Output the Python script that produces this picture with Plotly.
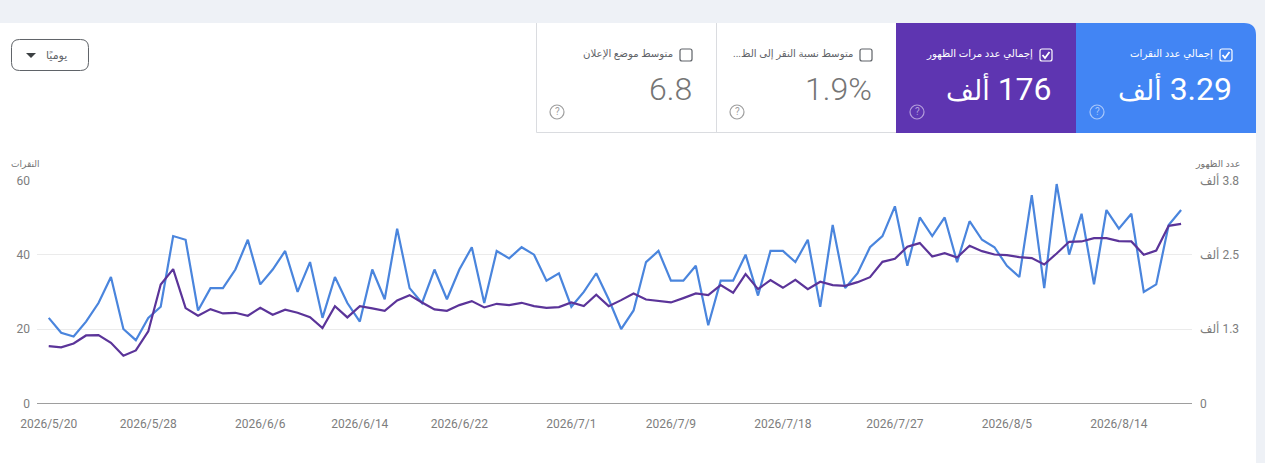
import datetime as dt
import plotly.graph_objects as go

W = 1265
H = 463

# daily clicks (left axis)
clicks = [23, 19, 18, 22, 27, 34, 20, 17, 23, 26, 45, 44, 25, 31, 31, 36, 44, 32, 36, 41, 30, 38, 23,
          34, 27, 22, 36, 28, 47, 31, 27, 36, 28, 36, 42, 27, 41, 39, 42, 40, 33, 35, 26, 30, 35, 28,
          20, 25, 38, 41, 33, 33, 37, 21, 33, 33, 40, 29, 41, 41, 38, 44, 26, 48, 31, 35, 42, 45, 53,
          37, 50, 45, 50, 38, 49, 44, 42, 37, 34, 56, 31, 59, 40, 51, 32, 52, 47, 51, 30, 32, 48, 52]

# daily impressions (right axis)
impressions = [963, 941, 1008, 1142, 1148, 1019, 801, 890, 1210, 1999, 2257, 1602, 1473, 1585, 1512,
               1523, 1473, 1607, 1490, 1574, 1523, 1450, 1266, 1635, 1445, 1635, 1596, 1557, 1730,
               1820, 1697, 1579, 1557, 1652, 1719, 1613, 1674, 1652, 1691, 1635, 1607, 1618, 1697,
               1635, 1826, 1635, 1736, 1848, 1747, 1725, 1697, 1770, 1848, 1820, 1988, 1859, 2173,
               1921, 2072, 1943, 2078, 1921, 2044, 1988, 1977, 2038, 2122, 2380, 2430, 2632, 2694,
               2470, 2526, 2453, 2649, 2559, 2503, 2492, 2458, 2442, 2335, 2520, 2716, 2722, 2778,
               2778, 2727, 2722, 2498, 2570, 2985, 3018]

start = dt.datetime(2026, 5, 20)
dates = [start + dt.timedelta(days=i) for i in range(len(clicks))]

x_ticks = ["2026-05-20", "2026-05-28", "2026-06-06", "2026-06-14", "2026-06-22", "2026-07-01",
           "2026-07-09", "2026-07-18", "2026-07-27", "2026-08-05", "2026-08-14"]
x_labels = ["2026/5/20", "2026/5/28", "2026/6/6", "2026/6/14", "2026/6/22", "2026/7/1",
            "2026/7/9", "2026/7/18", "2026/7/27", "2026/8/5", "2026/8/14"]
left_ticks = [0, 20, 40, 60]
right_ticks = [0, 1250, 2500, 3750]
# the leading RLM keeps the number on the right of the word, as in the page
right_labels = ["0", "\u200f1.3 ألف", "\u200f2.5 ألف", "\u200f3.8 ألف"]

card_titles = ["إجمالي عدد النقرات", "إجمالي عدد مرات الظهور", "متوسط نسبة النقر إلى الظ...\u200f", "متوسط موضع الإعلان"]
# the Arabic word is set a bit smaller, DejaVu runs wider than the page font
card_values = ['\u200f3.29 <span style="font-size:27px">ألف</span>',
               '\u200f176 <span style="font-size:27px">ألف</span>', "1.9%", "6.8"]

BLUE = "#4285f4"
PURPLE = "#5e35b1"
LINE_BLUE = "#4a85dd"
LINE_PURPLE = "#5b3499"
GREY = "#757575"
TICK_GREY = "#7d7d7d"
FONT = "Roboto, 'DejaVu Sans', sans-serif"


def px(x):
    return x / W


def py(y):
    return 1 - y / H


def rect(x0, y0, x1, y1, **kw):
    return dict(type="rect", xref="paper", yref="paper", layer="below",
                x0=px(x0), x1=px(x1), y0=py(y0), y1=py(y1), **kw)


def path_shape(points, closed=False, **kw):
    # straight path given in page pixels
    d = "M " + " L ".join(f"{px(x):.5f} {py(y):.5f}" for x, y in points)
    return dict(type="path", xref="paper", yref="paper", path=d + (" Z" if closed else ""), **kw)


def rounded(x0, y0, x1, y1, r, tl=True, tr=True, br=True, bl=True, **kw):
    # rounded box as an svg path, given in page pixels
    def p(x, y):
        return f"{px(x):.5f} {py(y):.5f}"
    d = f"M {p(x0 + (r if tl else 0), y0)} L {p(x1 - (r if tr else 0), y0)} "
    if tr:
        d += f"Q {p(x1, y0)} {p(x1, y0 + r)} "
    d += f"L {p(x1, y1 - (r if br else 0))} "
    if br:
        d += f"Q {p(x1, y1)} {p(x1 - r, y1)} "
    d += f"L {p(x0 + (r if bl else 0), y1)} "
    if bl:
        d += f"Q {p(x0, y1)} {p(x0, y1 - r)} "
    d += f"L {p(x0, y0 + (r if tl else 0))} "
    if tl:
        d += f"Q {p(x0, y0)} {p(x0 + r, y0)} "
    return dict(type="path", xref="paper", yref="paper", path=d + "Z", **kw)


def label(x, y, text, size, color, anchor="right", weight=None):
    return dict(xref="paper", yref="paper", x=px(x), y=py(y), text=text, showarrow=False,
                xanchor=anchor, yanchor="middle",
                font=dict(family=FONT, size=size, color=color, weight=weight))


fig = go.Figure()
fig.add_trace(go.Scatter(x=dates, y=clicks, mode="lines", line=dict(color=LINE_BLUE, width=2.2),
                         hoverinfo="skip", showlegend=False))
fig.add_trace(go.Scatter(x=dates, y=impressions, mode="lines", yaxis="y2", line=dict(color=LINE_PURPLE, width=2.2),
                         hoverinfo="skip", showlegend=False))

shapes = [rounded(0, 23, 1256, H, 12, tl=False, bl=False, br=False, fillcolor="white", line_width=0, layer="below")]
# only the left and bottom edges of the white cards are drawn
edge = dict(color="#dadce0", width=1)
shapes.append(path_shape([(536.5, 23), (536.5, 132.5), (896, 132.5)], line=edge, layer="below"))
shapes.append(path_shape([(716.5, 23), (716.5, 132.5)], line=edge, layer="below"))
shapes.append(rect(896, 23, 1076, 133, fillcolor=PURPLE, line_width=0))
shapes.append(rounded(1076, 23, 1256, 133, 12, tl=False, bl=False, br=False, fillcolor=BLUE, line_width=0, layer="below"))

annotations = []
card_right = [1232, 1052, 872, 692]
help_x = [1097, 917, 737, 557]
help_colors = ["#a8c7fa", "#b39ddb", "#9e9e9e", "#9e9e9e"]
for i in range(4):
    on = i < 2
    fg = "white" if on else GREY
    right = card_right[i]
    shapes.append(rounded(right - 12, 49, right, 61, 2, line=dict(color="white" if on else "#5f6368", width=1.2),
                          fillcolor="rgba(0,0,0,0)"))
    if on:
        shapes.append(path_shape([(right - 9.5, 55), (right - 7, 58), (right - 2.5, 52)],
                                 line=dict(color="white", width=1.8)))
    annotations.append(label(right - 17, 54.5, card_titles[i], 10.2, fg if on else "#5f6368"))
    annotations.append(label(right + 1.5, 89, card_values[i], 32, fg, weight=400 if on else 300))
    shapes.append(dict(type="circle", xref="paper", yref="paper", x0=px(help_x[i] - 7), x1=px(help_x[i] + 7),
                       y0=py(119), y1=py(105), line=dict(color=help_colors[i], width=1.2)))
    annotations.append(label(help_x[i], 112, "?", 10, help_colors[i], anchor="center"))

# period dropdown
shapes.append(rounded(11.5, 39.5, 88.5, 70.5, 8, line=dict(color="#5f6368", width=1), fillcolor="white"))
shapes.append(path_shape([(26, 53), (36, 53), (31, 58)], closed=True, fillcolor="#3c4043", line_width=0))
annotations.append(label(57, 55, "يوميًا", 11, "#5f6368", anchor="center"))

# axis names
annotations.append(label(40.5, 163.5, "النقرات", 9, GREY))
annotations.append(label(1242, 163.5, "عدد الظهور", 9.5, GREY))

fig.update_layout(
    width=W, height=H, autosize=False,
    margin=dict(l=0, r=0, t=0, b=0),
    paper_bgcolor="#eef1f6", plot_bgcolor="rgba(0,0,0,0)",
    font=dict(family=FONT, size=12, color=GREY),
    shapes=shapes, annotations=annotations,
    xaxis=dict(
        domain=[px(37), px(1192)], automargin=False,
        range=[start - dt.timedelta(hours=22.6), dates[-1] + dt.timedelta(hours=21)],
        tickmode="array", tickvals=x_ticks, ticktext=x_labels,
        showgrid=False, zeroline=False, showline=False, ticks="",
        ticklabelstandoff=12, tickfont=dict(size=12, color=TICK_GREY),
    ),
    yaxis=dict(
        domain=[py(403.4), py(180.3)], range=[0, 60], automargin=False,
        tickmode="array", tickvals=left_ticks,
        gridcolor="#ebebeb", gridwidth=1, zeroline=True, zerolinecolor="#9e9e9e", zerolinewidth=1,
        showline=False, ticks="", ticklabelstandoff=6, tickfont=dict(size=12, color=TICK_GREY),
    ),
    yaxis2=dict(
        overlaying="y", side="right", range=[0, 3750], automargin=False,
        tickmode="array", tickvals=right_ticks, ticktext=right_labels,
        showgrid=False, zeroline=False, showline=False, ticks="",
        ticklabelstandoff=7, tickfont=dict(size=12, color=TICK_GREY),
    ),
)

fig.write_html("out.html", config={"displayModeBar": False},
               post_script="document.body.style.margin='0';document.body.style.overflow='hidden';")
